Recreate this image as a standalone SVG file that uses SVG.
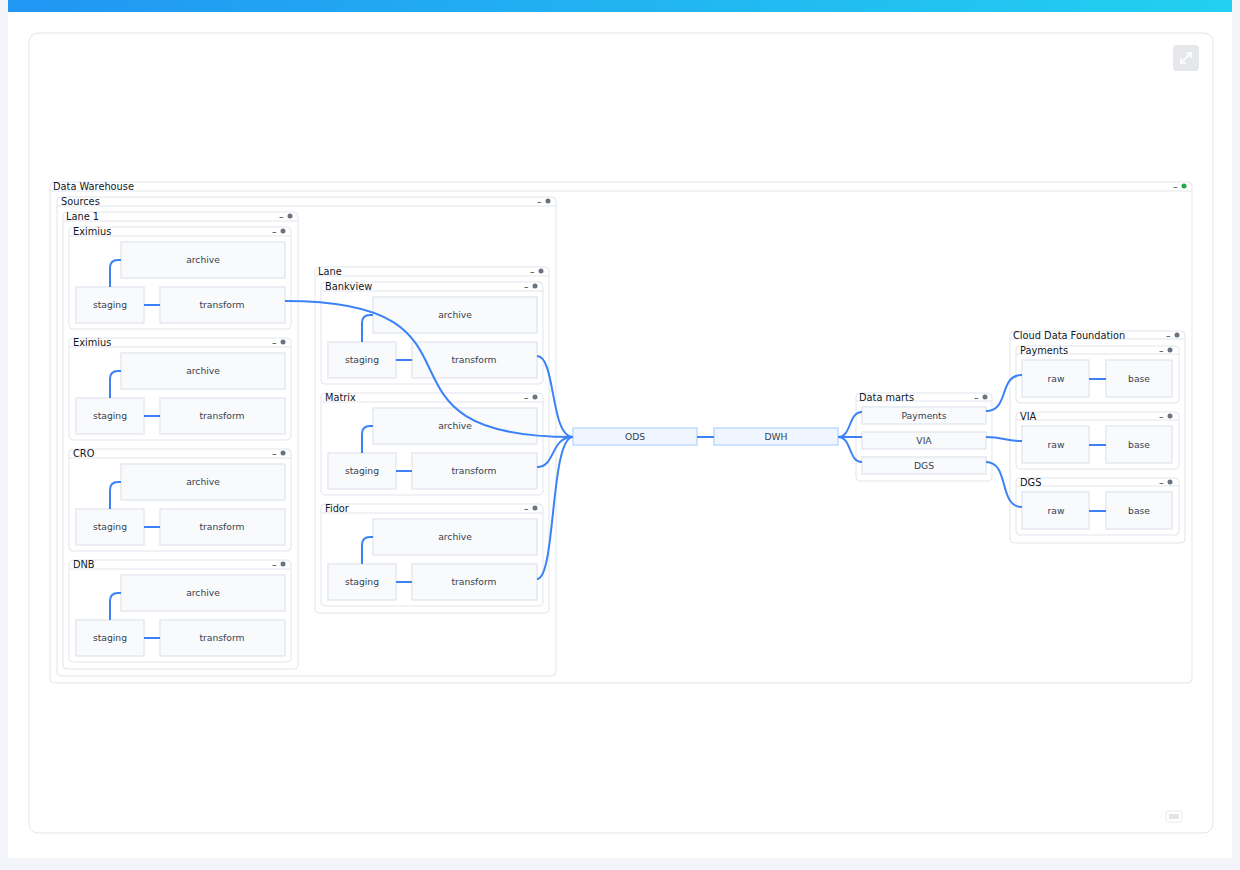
<svg xmlns="http://www.w3.org/2000/svg" width="1240" height="870" viewBox="0 0 1240 870">
<defs>
<linearGradient id="topbar" x1="0" y1="0" x2="1" y2="0">
<stop offset="0" stop-color="#2196f3"/>
<stop offset="1" stop-color="#22d0f0"/>
</linearGradient>
</defs>
<style>
.grp{fill:#ffffff;stroke:#e3e5ea;stroke-width:1}
.hl{stroke:#e3e5ea;stroke-width:1}
.gt{font-family:"DejaVu Sans",sans-serif;font-size:9.8px;fill:#111827}
.ctl{font-family:"DejaVu Sans",sans-serif;font-size:9px;fill:#111827}
.dot{fill:#6b7280}
.nd{fill:#f8fafc;stroke:#e5e9f0;stroke-width:1.5}
.nt{font-family:"DejaVu Sans",sans-serif;font-size:9.2px;fill:#374151;text-anchor:middle}
.hub{fill:#eff6ff;stroke:#bfdbfe;stroke-width:1.5}
.cn{fill:none;stroke:#3b82f6;stroke-width:2}
</style>
<rect x="0" y="0" width="1240" height="870" fill="#f3f5fa"/>
<rect x="8" y="0" width="1224" height="858" fill="#ffffff"/>
<rect x="8" y="0" width="1224" height="12" fill="url(#topbar)"/>
<rect x="29" y="33" width="1184" height="800" rx="9" fill="#ffffff" stroke="#e3e5ea"/>
<g id="expand-btn">
<rect x="1173" y="45" width="26" height="26" rx="4" fill="#e5e7eb"/>
<path d="M1181,63 L1191,53 M1186,53 H1191 V58 M1181,58 V63 H1186" fill="none" stroke="#ffffff" stroke-width="1.6"/>
</g>
<g id="kbd-icon">
<rect x="1166" y="811" width="16" height="11" rx="2" fill="#ffffff" stroke="#e8eaee"/>
<rect x="1169" y="814" width="10" height="5" fill="#e2e4e8"/>
</g>

<g id="data-warehouse">
<rect class="grp" x="50" y="182" width="1142" height="501" rx="4"/>
<line class="hl" x1="50" y1="191" x2="1192" y2="191"/>
<text class="gt" x="53" y="190">Data Warehouse</text>
<text class="ctl" x="1173" y="190">–</text>
<circle cx="1184" cy="186" r="2.5" fill="#22a845"/>
</g>

<g id="sources">
<rect class="grp" x="57" y="197" width="499" height="479" rx="4"/>
<line class="hl" x1="57" y1="206" x2="556" y2="206"/>
<text class="gt" x="61" y="205">Sources</text>
<text class="ctl" x="537" y="205">–</text>
<circle class="dot" cx="548" cy="201" r="2.5"/>
</g>

<g id="lane1">
<rect class="grp" x="63" y="212" width="235" height="457" rx="4"/>
<line class="hl" x1="63" y1="221" x2="298" y2="221"/>
<text class="gt" x="66" y="220">Lane 1</text>
<text class="ctl" x="279" y="220">–</text>
<circle class="dot" cx="290" cy="216" r="2.5"/>
</g>

<g id="lane1-eximius-a">
<rect class="grp" x="69" y="227" width="222" height="102" rx="4"/>
<line class="hl" x1="69" y1="236" x2="291" y2="236"/>
<text class="gt" x="73" y="235">Eximius</text>
<text class="ctl" x="272" y="235">–</text>
<circle class="dot" cx="283" cy="231" r="2.5"/>
<rect class="nd" x="121" y="242" width="164" height="36"/><text class="nt" x="203" y="263">archive</text>
<rect class="nd" x="76" y="287" width="68" height="36"/><text class="nt" x="110" y="308">staging</text>
<rect class="nd" x="160" y="287" width="125" height="36"/><text class="nt" x="222" y="308">transform</text>
</g>
<g id="lane1-eximius-b">
<rect class="grp" x="69" y="338" width="222" height="102" rx="4"/>
<line class="hl" x1="69" y1="347" x2="291" y2="347"/>
<text class="gt" x="73" y="346">Eximius</text>
<text class="ctl" x="272" y="346">–</text>
<circle class="dot" cx="283" cy="342" r="2.5"/>
<rect class="nd" x="121" y="353" width="164" height="36"/><text class="nt" x="203" y="374">archive</text>
<rect class="nd" x="76" y="398" width="68" height="36"/><text class="nt" x="110" y="419">staging</text>
<rect class="nd" x="160" y="398" width="125" height="36"/><text class="nt" x="222" y="419">transform</text>
</g>
<g id="lane1-cro">
<rect class="grp" x="69" y="449" width="222" height="102" rx="4"/>
<line class="hl" x1="69" y1="458" x2="291" y2="458"/>
<text class="gt" x="73" y="457">CRO</text>
<text class="ctl" x="272" y="457">–</text>
<circle class="dot" cx="283" cy="453" r="2.5"/>
<rect class="nd" x="121" y="464" width="164" height="36"/><text class="nt" x="203" y="485">archive</text>
<rect class="nd" x="76" y="509" width="68" height="36"/><text class="nt" x="110" y="530">staging</text>
<rect class="nd" x="160" y="509" width="125" height="36"/><text class="nt" x="222" y="530">transform</text>
</g>
<g id="lane1-dnb">
<rect class="grp" x="69" y="560" width="222" height="102" rx="4"/>
<line class="hl" x1="69" y1="569" x2="291" y2="569"/>
<text class="gt" x="73" y="568">DNB</text>
<text class="ctl" x="272" y="568">–</text>
<circle class="dot" cx="283" cy="564" r="2.5"/>
<rect class="nd" x="121" y="575" width="164" height="36"/><text class="nt" x="203" y="596">archive</text>
<rect class="nd" x="76" y="620" width="68" height="36"/><text class="nt" x="110" y="641">staging</text>
<rect class="nd" x="160" y="620" width="125" height="36"/><text class="nt" x="222" y="641">transform</text>
</g>

<g id="lane">
<rect class="grp" x="315" y="267" width="234" height="346" rx="4"/>
<line class="hl" x1="315" y1="276" x2="549" y2="276"/>
<text class="gt" x="318" y="275">Lane</text>
<text class="ctl" x="530" y="275">–</text>
<circle class="dot" cx="541" cy="271" r="2.5"/>
</g>
<g id="lane-bankview">
<rect class="grp" x="321" y="282" width="222" height="102" rx="4"/>
<line class="hl" x1="321" y1="291" x2="543" y2="291"/>
<text class="gt" x="325" y="290">Bankview</text>
<text class="ctl" x="524" y="290">–</text>
<circle class="dot" cx="535" cy="286" r="2.5"/>
<rect class="nd" x="373" y="297" width="164" height="36"/><text class="nt" x="455" y="318">archive</text>
<rect class="nd" x="328" y="342" width="68" height="36"/><text class="nt" x="362" y="363">staging</text>
<rect class="nd" x="412" y="342" width="125" height="36"/><text class="nt" x="474" y="363">transform</text>
</g>
<g id="lane-matrix">
<rect class="grp" x="321" y="393" width="222" height="102" rx="4"/>
<line class="hl" x1="321" y1="402" x2="543" y2="402"/>
<text class="gt" x="325" y="401">Matrix</text>
<text class="ctl" x="524" y="401">–</text>
<circle class="dot" cx="535" cy="397" r="2.5"/>
<rect class="nd" x="373" y="408" width="164" height="36"/><text class="nt" x="455" y="429">archive</text>
<rect class="nd" x="328" y="453" width="68" height="36"/><text class="nt" x="362" y="474">staging</text>
<rect class="nd" x="412" y="453" width="125" height="36"/><text class="nt" x="474" y="474">transform</text>
</g>
<g id="lane-fidor">
<rect class="grp" x="321" y="504" width="222" height="102" rx="4"/>
<line class="hl" x1="321" y1="513" x2="543" y2="513"/>
<text class="gt" x="325" y="512">Fidor</text>
<text class="ctl" x="524" y="512">–</text>
<circle class="dot" cx="535" cy="508" r="2.5"/>
<rect class="nd" x="373" y="519" width="164" height="36"/><text class="nt" x="455" y="540">archive</text>
<rect class="nd" x="328" y="564" width="68" height="36"/><text class="nt" x="362" y="585">staging</text>
<rect class="nd" x="412" y="564" width="125" height="36"/><text class="nt" x="474" y="585">transform</text>
</g>

<g id="ods">
<rect class="hub" x="573" y="428" width="124" height="17"/>
<text class="nt" x="635" y="440">ODS</text>
</g>
<g id="dwh">
<rect class="hub" x="714" y="428" width="124" height="17"/>
<text class="nt" x="776" y="440">DWH</text>
</g>

<g id="data-marts">
<rect class="grp" x="856" y="393" width="136" height="88" rx="4"/>
<line class="hl" x1="856" y1="401" x2="992" y2="401"/>
<text class="gt" x="859" y="401">Data marts</text>
<text class="ctl" x="974" y="401">–</text>
<circle class="dot" cx="985" cy="397" r="2.5"/>
<rect class="nd" x="862" y="407" width="124" height="17"/><text class="nt" x="924" y="419">Payments</text>
<rect class="nd" x="862" y="432" width="124" height="17"/><text class="nt" x="924" y="444">VIA</text>
<rect class="nd" x="862" y="457" width="124" height="17"/><text class="nt" x="924" y="469">DGS</text>
</g>

<g id="cloud-data-foundation">
<rect class="grp" x="1010" y="331" width="175" height="212" rx="4"/>
<line class="hl" x1="1010" y1="339" x2="1185" y2="339"/>
<text class="gt" x="1013" y="339">Cloud Data Foundation</text>
<text class="ctl" x="1166" y="339">–</text>
<circle class="dot" cx="1177" cy="335" r="2.5"/>
</g>
<g id="cdf-payments">
<rect class="grp" x="1016" y="346" width="163" height="57" rx="4"/>
<line class="hl" x1="1016" y1="354" x2="1179" y2="354"/>
<text class="gt" x="1020" y="354">Payments</text>
<text class="ctl" x="1159" y="354">–</text>
<circle class="dot" cx="1170" cy="350" r="2.5"/>
<rect class="nd" x="1022" y="360" width="67" height="37"/><text class="nt" x="1056" y="382">raw</text>
<rect class="nd" x="1106" y="360" width="66" height="37"/><text class="nt" x="1139" y="382">base</text>
</g>
<g id="cdf-via">
<rect class="grp" x="1016" y="412" width="163" height="57" rx="4"/>
<line class="hl" x1="1016" y1="420" x2="1179" y2="420"/>
<text class="gt" x="1020" y="420">VIA</text>
<text class="ctl" x="1159" y="420">–</text>
<circle class="dot" cx="1170" cy="416" r="2.5"/>
<rect class="nd" x="1022" y="426" width="67" height="37"/><text class="nt" x="1056" y="448">raw</text>
<rect class="nd" x="1106" y="426" width="66" height="37"/><text class="nt" x="1139" y="448">base</text>
</g>
<g id="cdf-dgs">
<rect class="grp" x="1016" y="478" width="163" height="57" rx="4"/>
<line class="hl" x1="1016" y1="486" x2="1179" y2="486"/>
<text class="gt" x="1020" y="486">DGS</text>
<text class="ctl" x="1159" y="486">–</text>
<circle class="dot" cx="1170" cy="482" r="2.5"/>
<rect class="nd" x="1022" y="492" width="67" height="37"/><text class="nt" x="1056" y="514">raw</text>
<rect class="nd" x="1106" y="492" width="66" height="37"/><text class="nt" x="1139" y="514">base</text>
</g>

<g id="connectors">
<path class="cn" d="M110,287 V268 Q110,260 118,260 H121"/>
<path class="cn" d="M144,305 H160"/>
<path class="cn" d="M110,398 V379 Q110,371 118,371 H121"/>
<path class="cn" d="M144,416 H160"/>
<path class="cn" d="M110,509 V490 Q110,482 118,482 H121"/>
<path class="cn" d="M144,527 H160"/>
<path class="cn" d="M110,620 V601 Q110,593 118,593 H121"/>
<path class="cn" d="M144,638 H160"/>
<path class="cn" d="M362,342 V323 Q362,315 370,315 H373"/>
<path class="cn" d="M396,360 H412"/>
<path class="cn" d="M362,453 V434 Q362,426 370,426 H373"/>
<path class="cn" d="M396,471 H412"/>
<path class="cn" d="M362,564 V545 Q362,537 370,537 H373"/>
<path class="cn" d="M396,582 H412"/>
<path class="cn" d="M285,301 C510,301 350,437 573,437"/>
<path class="cn" d="M537,356 C556,356 550,437 573,437"/>
<path class="cn" d="M537,467 C556,467 550,437 573,437"/>
<path class="cn" d="M537,579 C556,579 550,437 573,437"/>
<path class="cn" d="M697,437 H714"/>
<path class="cn" d="M838,437 C852,437 848,412 862,412"/>
<path class="cn" d="M838,437 H862"/>
<path class="cn" d="M838,437 C852,437 848,462 862,462"/>
<path class="cn" d="M986,411 C1010,411 998,375 1022,375"/>
<path class="cn" d="M986,437 C1004,437 1004,441 1022,441"/>
<path class="cn" d="M986,462 C1010,462 998,507 1022,507"/>
<path class="cn" d="M1089,379 H1106"/>
<path class="cn" d="M1089,445 H1106"/>
<path class="cn" d="M1089,511 H1106"/>
</g>
</svg>
